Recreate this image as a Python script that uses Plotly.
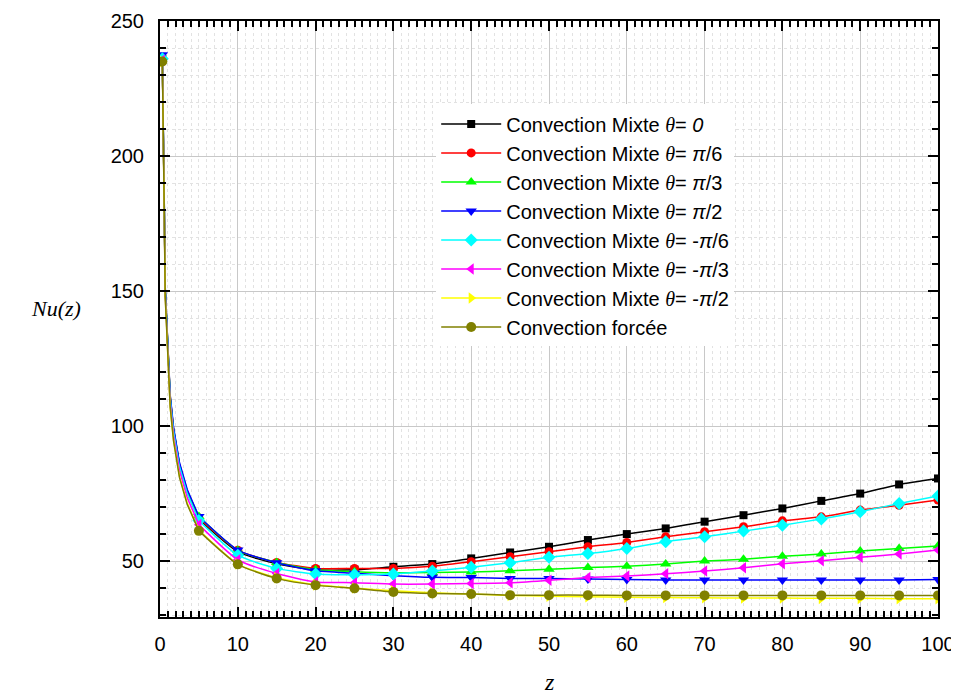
import plotly.graph_objects as go

# ---------------- data ----------------
Z_EARLY = [0.3, 0.4, 0.54, 0.67, 1.0, 1.31, 1.74, 2.5, 3.5, 5]
Z_MAIN = [5, 10, 15, 20, 25, 30, 35, 40, 45, 50, 55, 60, 65, 70, 75, 80, 85, 90, 95, 100]

NAMES = [
    "θ0", "θpi6", "θpi3", "θpi2", "θm6", "θm3", "θm2", "forced"
]

early_black = [236, 204, 183.5, 150.5, 130.5, 110.5, 98.5, 85.5, 75.5, 65.5]
early_red = [236, 204.5, 184, 151, 131, 111, 99, 86, 76, 66]
early_green = [236.5, 205, 184, 151, 131, 111, 99, 86, 76, 66.5]
early_blue = [237.5, 205.5, 184.5, 151.5, 131.5, 111.5, 99.5, 86.5, 76.5, 66.5]
early_cyan = [236, 204, 183, 150, 130, 110, 98, 85, 75, 65]
early_magenta = [235.5, 203, 182, 149, 128.5, 108.5, 96.5, 83.5, 73.5, 63.5]
early_yellow = [235, 202, 181, 148, 127, 107, 95, 81.5, 71.5, 61.5]
early_olive = [235, 202, 181, 148, 127, 107, 94.5, 81, 71, 61.2]

main_black = [65.5, 53.5, 49.0, 46.8, 46.8, 47.9, 48.9, 51.0, 53.2, 55.3, 57.8, 60.0, 62.1, 64.6, 67.0, 69.5, 72.3, 75.0, 78.4, 80.6]
main_red = [66.0, 54.0, 49.5, 47.3, 47.3, 47.3, 48.1, 49.8, 51.6, 53.5, 55.3, 56.9, 59.0, 60.9, 62.7, 64.9, 66.4, 68.9, 70.7, 72.6]
main_green = [66.5, 54.0, 49.5, 46.8, 46.1, 45.7, 45.8, 46.0, 46.4, 47.0, 47.6, 48.1, 48.9, 50.0, 50.7, 51.8, 52.6, 53.7, 54.7, 55.6]
main_blue = [66.5, 54.1, 49.4, 46.4, 45.5, 44.6, 44.0, 43.9, 43.6, 43.6, 43.4, 43.2, 43.0, 43.0, 43.0, 43.0, 43.0, 43.0, 43.0, 43.2]
main_cyan = [65.0, 52.2, 47.3, 45.2, 44.9, 45.2, 46.3, 47.7, 49.4, 51.4, 52.8, 54.7, 57.2, 59.0, 61.1, 63.3, 65.6, 68.3, 71.3, 74.1]
main_magenta = [63.5, 50.5, 45.4, 42.3, 42.0, 41.5, 41.5, 41.7, 42.0, 42.9, 43.9, 44.5, 45.3, 46.3, 47.5, 49.0, 50.1, 51.4, 52.6, 54.1]
main_yellow = [61.5, 48.9, 43.8, 41.2, 40.0, 39.0, 38.3, 37.8, 37.3, 37.0, 36.8, 36.6, 36.5, 36.4, 36.3, 36.3, 36.2, 36.2, 36.1, 36.1]
main_olive = [61.2, 48.8, 43.6, 41.1, 39.9, 38.6, 38.0, 37.8, 37.4, 37.4, 37.4, 37.3, 37.3, 37.3, 37.3, 37.3, 37.3, 37.3, 37.3, 37.3]

TH = "<span style=\"font-family:'Liberation Serif'\"><i>θ</i></span>"
LABELS = [
    "Convection Mixte " + TH + "= <i>0</i>",
    "Convection Mixte " + TH + "= <i>π</i>/6",
    "Convection Mixte " + TH + "= <i>π</i>/3",
    "Convection Mixte " + TH + "= <i>π</i>/2",
    "Convection Mixte " + TH + "= -<i>π</i>/6",
    "Convection Mixte " + TH + "= -<i>π</i>/3",
    "Convection Mixte " + TH + "= -<i>π</i>/2",
    "Convection forcée",
]

X_TICKS = [0, 10, 20, 30, 40, 50, 60, 70, 80, 90, 100]
Y_TICKS = [50, 100, 150, 200, 250]

# ---------------- styles ----------------
COLORS = ["#000000", "#ff0000", "#00ff00", "#0000ff", "#00ffff", "#ff00ff", "#ffff00", "#808000"]
SYMBOLS = ["square", "circle", "triangle-up", "triangle-down", "diamond", "triangle-left", "triangle-right", "circle"]
SIZES = [8, 9, 10, 10, 10, 10, 10, 10]

EARLY = [early_black, early_red, early_green, early_blue, early_cyan, early_magenta, early_yellow, early_olive]
MAIN = [main_black, main_red, main_green, main_blue, main_cyan, main_magenta, main_yellow, main_olive]

fig = go.Figure()
for i in range(8):
    fig.add_trace(go.Scatter(
        x=Z_EARLY, y=EARLY[i], mode="lines",
        line=dict(color=COLORS[i], width=1.5),
        showlegend=False, legendgroup=NAMES[i], hoverinfo="skip",
    ))
    fig.add_trace(go.Scatter(
        x=[Z_EARLY[0], None] + Z_MAIN, y=[EARLY[i][0], None] + MAIN[i],
        mode="lines+markers", name=LABELS[i], legendgroup=NAMES[i],
        line=dict(color=COLORS[i], width=1.5, shape="spline", smoothing=0.6),
        marker=dict(color=COLORS[i], symbol=SYMBOLS[i], size=SIZES[i], line=dict(width=0)),
        connectgaps=False,
    ))

axis_common = dict(
    showline=True, linecolor="black", linewidth=2, mirror="ticks",
    ticks="inside", ticklen=10, tickwidth=2, tickcolor="black",
    showgrid=True, gridcolor="#c8c8c8", gridwidth=1,
    zeroline=False, automargin=False,
    tickfont=dict(family="Liberation Sans, Arial", size=20, color="black"),
)

fig.update_xaxes(
    range=[0, 100], tickvals=X_TICKS,
    minor=dict(dtick=1, ticks="inside", ticklen=6, tickwidth=1.5, tickcolor="black",
               showgrid=True, gridcolor="#e2e2e2", griddash="dot", gridwidth=1),
    ticklabelstandoff=8,
    **axis_common,
)
fig.update_yaxes(
    range=[29.3, 250], tickvals=Y_TICKS,
    minor=dict(dtick=10, tick0=0, ticks="inside", ticklen=6, tickwidth=1.5, tickcolor="black",
               showgrid=True, gridcolor="#e2e2e2", griddash="dot", gridwidth=1),
    ticklabelstandoff=10,
    **axis_common,
)

# page body has an 8px default margin: figure is sized/offset to compensate
fig.update_layout(
    width=951, height=689,
    margin=dict(l=152, r=21, t=13, b=80),
    paper_bgcolor="white", plot_bgcolor="white",
    font=dict(family="Liberation Sans, Arial", color="black"),
    legend=dict(
        x=0.355, y=0.86, xanchor="left", yanchor="top",
        bgcolor="white", borderwidth=0,
        font=dict(family="Liberation Sans, Arial", size=20, color="black"),
        itemwidth=60, tracegroupgap=0,
    ),
    annotations=[
        dict(text="<i>z</i>", xref="paper", yref="paper", x=0.5, y=-0.134,
             xanchor="center", yanchor="bottom", showarrow=False,
             font=dict(family="Liberation Serif, Times New Roman", size=24, color="black")),
        dict(text="<i>Nu(z)</i>", xref="paper", yref="paper", x=-0.1337, y=0.518,
             xanchor="center", yanchor="middle", showarrow=False,
             font=dict(family="Liberation Serif, Times New Roman", size=22, color="black")),
    ],
    showlegend=True,
)

fig.write_html("out.html")
